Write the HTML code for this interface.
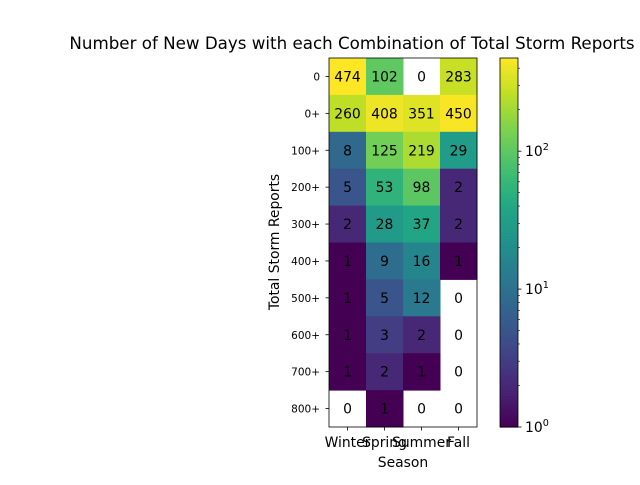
<!DOCTYPE html>
<html><head><meta charset="utf-8"><style>
body{margin:0;background:#fff}
svg{font-family:"DejaVu Sans","Liberation Sans",sans-serif}
</style></head><body>
<svg id="chart" width="640" height="480" viewBox="0 0 640 480">
<text x="352" y="49" font-size="16.7" text-anchor="middle">Number of New Days with each Combination of Total Storm Reports</text>
<text x="403" y="467" font-size="13.9" text-anchor="middle">Season</text>
<text transform="translate(279,242) rotate(-90)" font-size="13.9" text-anchor="middle">Total Storm Reports</text>
<g id="cells"></g><g id="axes"></g><g id="cbar"></g>
</svg>
<script>
const seasons=["Winter","Spring","Summer","Fall"];
const reportBins=["0","0+","100+","200+","300+","400+","500+","600+","700+","800+"];
const winter=[474,260,8,5,2,1,1,1,1,0];
const spring=[102,408,125,53,28,9,5,3,2,1];
const summer=[0,351,219,98,37,16,12,2,1,0];
const fall=[283,450,29,2,2,1,0,0,0,0];
const cbTicks=[1,10,100];
const cbTickLabels=["0","1","2"];
const series=[winter,spring,summer,fall];
const NS="http://www.w3.org/2000/svg";
const L=329,R=477,T=58,B=427;
const cw=(R-L)/seasons.length, rh=(B-T)/reportBins.length;
const vmin=1, vmax=Math.max(...series.flat());
const xPos=i=>L+i*cw, yPos=j=>T+j*rh;
const norm=v=>Math.log10(v/vmin)/Math.log10(vmax/vmin);
const stops=["#440154","#482475","#414487","#355f8d","#2a788e","#21918c","#22a884","#44bf70","#7ad151","#bddf26","#fde725"];
function hex(h){return [1,3,5].map(k=>parseInt(h.substr(k,2),16));}
function viridis(t){t=Math.max(0,Math.min(1,t));const p=t*10,i=Math.min(9,Math.floor(p)),f=p-i;const a=hex(stops[i]),b=hex(stops[i+1]);return "rgb("+a.map((c,k)=>Math.round(c+(b[k]-c)*f)).join(",")+")";}
function mk(tag,attrs,parent){const e=document.createElementNS(NS,tag);for(const k in attrs)e.setAttribute(k,attrs[k]);parent.appendChild(e);return e;}
const cells=document.getElementById('cells'),axes=document.getElementById('axes'),cbar=document.getElementById('cbar');
series.forEach((s,i)=>s.forEach((v,j)=>{
  if(v>0){const r=mk('rect',{x:xPos(i),y:yPos(j),width:cw+0.5,height:rh+0.5,fill:viridis(norm(v))},cells);
  
  }
  const t=mk('text',{x:xPos(i)+cw/2,y:yPos(j)+rh/2+5,'font-size':13.9,'text-anchor':'middle',fill:'#000'},cells);
  t.textContent=v;
  
  
}));
const fr=mk('rect',{x:L,y:T,width:R-L,height:B-T,fill:'none',stroke:'#000','stroke-width':0.8},axes);


seasons.forEach((s,i)=>{
  mk('line',{x1:xPos(i)+cw/2,x2:xPos(i)+cw/2,y1:B,y2:B+3.5,stroke:'#000','stroke-width':0.8},axes);
  const t=mk('text',{x:xPos(i)+cw/2,y:B+20,'font-size':13.9,'text-anchor':'middle'},axes);t.textContent=s;
  
  
});
reportBins.forEach((b,j)=>{
  mk('line',{x1:L-3.5,x2:L,y1:yPos(j)+rh/2,y2:yPos(j)+rh/2,stroke:'#000','stroke-width':0.8},axes);
  const t=mk('text',{x:L-9,y:yPos(j)+rh/2+4,'font-size':10.5,'text-anchor':'end'},axes);t.textContent=b;
  
  
});
const CL=500,CR=518;
const cy=v=>B-(B-T)*norm(v);
const n=120;
for(let k=0;k<n;k++){const r=mk('rect',{x:CL,y:T+(B-T)*k/n,width:CR-CL,height:(B-T)/n+0.6,fill:viridis(1-(k+0.5)/n)},cbar);
  
  }
const cf=mk('rect',{x:CL,y:T,width:CR-CL,height:B-T,fill:'none',stroke:'#000','stroke-width':0.8},cbar);


for(let d=1;d<=100;d*=10)for(let m=2;m<=9;m++){const v=d*m;if(v<=vmax)mk('line',{x1:CR,x2:CR+2,y1:cy(v),y2:cy(v),stroke:'#000','stroke-width':0.6},cbar);}
cbTicks.forEach((v,k)=>{
  mk('line',{x1:CR,x2:CR+3.5,y1:cy(v),y2:cy(v),stroke:'#000','stroke-width':0.8},cbar);
  const t=mk('text',{x:CR+7,y:cy(v)+5,'font-size':13.9},cbar);
  t.textContent='10';
  const sp=mk('tspan',{dy:-6,'font-size':9.7},t);sp.textContent=cbTickLabels[k];
  
  
});
</script>
</body></html>
